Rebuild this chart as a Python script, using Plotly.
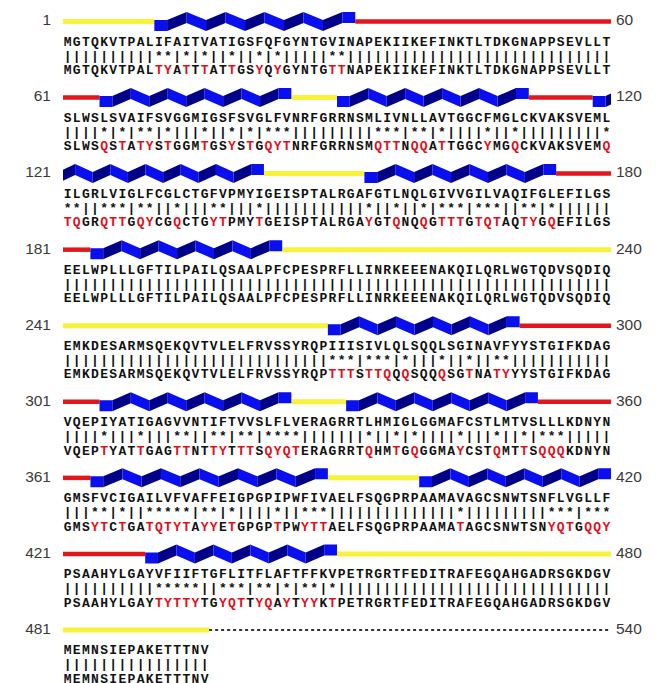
import plotly.graph_objects as go

# ---------------- data ----------------
orig_blocks = [
    "MGTQKVTPALIFAITVATIGSFQFGYNTGVINAPEKIIKEFINKTLTDKGNAPPSEVLLT",
    "SLWSLSVAIFSVGGMIGSFSVGLFVNRFGRRNSMLIVNLLAVTGGCFMGLCKVAKSVEML",
    "ILGRLVIGLFCGLCTGFVPMYIGEISPTALRGAFGTLNQLGIVVGILVAQIFGLEFILGS",
    "EELWPLLLGFTILPAILQSAALPFCPESPRFLLINRKEEENAKQILQRLWGTQDVSQDIQ",
    "EMKDESARMSQEKQVTVLELFRVSSYRQPIIISIVLQLSQQLSGINAVFYYSTGIFKDAG",
    "VQEPIYATIGAGVVNTIFTVVSLFLVERAGRRTLHMIGLGGMAFCSTLMTVSLLLKDNYN",
    "GMSFVCIGAILVFVAFFEIGPGPIPWFIVAELFSQGPRPAAMAVAGCSNWTSNFLVGLLF",
    "PSAAHYLGAYVFIIFTGFLITFLAFTFFKVPETRGRTFEDITRAFEGQAHGADRSGKDGV",
    "MEMNSIEPAKETTTNV",
]
mut_blocks = [
    "MGTQKVTPALTYATTTATTGSYQYGYNTGTTNAPEKIIKEFINKTLTDKGNAPPSEVLLT",
    "SLWSQSTATYSTGGMTGSYSTGQYTNRFGRRNSMQTTNQQATTGGCYMGQCKVAKSVEMQ",
    "TQGRQTTGQYCGQCTGYTPMYTGEISPTALRGAYGTQNQQGTTTGTQTAQTYGQEFILGS",
    "EELWPLLLGFTILPAILQSAALPFCPESPRFLLINRKEEENAKQILQRLWGTQDVSQDIQ",
    "EMKDESARMSQEKQVTVLELFRVSSYRQPTTTSTTQQQSQQQSGTNATYYYSTGIFKDAG",
    "VQEPTYATTGAGTTNTTYTTTSQYQTERAGRRTQHMTGQGGMAYCSTQMTTSQQQKDNYN",
    "GMSYTCTGATQTYTAYYETGPGPTPWYTTAELFSQGPRPAAMATAGCSNWTSNYQTGQQY",
    "PSAAHYLGAYTYTTYTGYQTTYQAYTYYKTPETRGRTFEDITRAFEGQAHGADRSGKDGV",
    "MEMNSIEPAKETTTNV",
]
left_labels = [1, 61, 121, 181, 241, 301, 361, 421, 481]
right_labels = [60, 120, 180, 240, 300, 360, 420, 480, 540]

helix_ranges = [(11, 32), (65, 85), (91, 111), (119, 142), (154, 174), (184, 204),
                (270, 290), (305, 325), (332, 352), (364, 389), (400, 420), (430, 450)]
yellow_ranges = [(1, 10), (86, 90), (143, 153), (205, 269), (326, 331), (390, 399), (451, 496)]
red_ranges = [(33, 64), (112, 118), (175, 183), (291, 304), (353, 363), (421, 429)]
dotted_range = (497, 540)

ROW = 60
for a, b in zip(orig_blocks, mut_blocks):
    assert len(a) == len(b)

# ---------------- style ----------------
YELLOW = "#F8F23A"
RED = "#E3161C"
BLUE = "#0A0FF0"
NAVY = "#000088"
TXT_RED = "#E0101A"
PAGE_OFF = 8.0          # default body margin of the html page
PX_PER_ROW = 76.06
PX_PER_COL = 9.133
X0_PX = 63.0            # page pixel of first column edge
Y0_PX = 21.5            # page pixel of first bar
OFF_TOP, OFF_MID, OFF_BOT = 21.0 / PX_PER_ROW, 35.0 / PX_PER_ROW, 49.5 / PX_PER_ROW
AMP = 4.0 / PX_PER_ROW
THICK = 11.0 / PX_PER_ROW

fig = go.Figure()


def split_rows(x0, x1):
    out = []
    r = int(x0 // ROW)
    while x0 < x1 - 1e-9:
        end = min(x1, (r + 1) * ROW)
        out.append((r, x0 - r * ROW, end - r * ROW))
        x0 = end
        r += 1
    return out


def add_bar(ranges, color, width=4.5, dash=None):
    xs, ys = [], []
    for s, e in ranges:
        for r, a, b in split_rows(s - 1, e):
            xs += [a, b, None]
            ys += [r, r, None]
    fig.add_trace(go.Scatter(x=xs, y=ys, mode="lines", hoverinfo="skip",
                             line=dict(color=color, width=width, dash=dash)))


add_bar(yellow_ranges, YELLOW, width=5)
add_bar(red_ranges, RED, width=4.5)
add_bar([dotted_range], "#333333", width=2, dash="dot")

navy_x, navy_y, blue_x, blue_y = [], [], [], []


def add_poly(xa, ya, xb, yb, color):
    ra = int(xa // ROW)
    if xb > (ra + 1) * ROW + 1e-9:
        xm = (ra + 1) * ROW
        ym = ya + (yb - ya) * (xm - xa) / (xb - xa)
        pieces = [(xa, ya, xm, ym), (xm, ym, xb, yb)]
    else:
        pieces = [(xa, ya, xb, yb)]
    for (x0, y0, x1, y1) in pieces:
        r = int((x0 + 1e-9) // ROW)
        lx0, lx1 = x0 - r * ROW, x1 - r * ROW
        px = [lx0, lx1, lx1, lx0, lx0, None]
        py = [r + y0 - THICK / 2, r + y1 - THICK / 2, r + y1 + THICK / 2,
              r + y0 + THICK / 2, r + y0 - THICK / 2, None]
        if color == "navy":
            navy_x.extend(px); navy_y.extend(py)
        else:
            blue_x.extend(px); blue_y.extend(py)


for s, e in helix_ranges:
    x0, x1 = s - 1, e
    L = x1 - x0
    box = 1.4
    inner = L - 2 * box
    nh = max(1, int(round(inner / 2.15)))
    if nh % 2 == 0:
        nh += 1
    half = inner / nh
    low, high = AMP, -AMP
    add_poly(x0, low, x0 + box, low, "blue")
    for k in range(nh):
        xa = x0 + box + k * half
        xb = xa + half
        if k % 2 == 0:
            add_poly(xa, low, xb, high, "navy")
        else:
            add_poly(xa, high, xb, low, "blue")
    add_poly(x1 - box, high, x1, high, "blue")

fig.add_trace(go.Scatter(x=navy_x, y=navy_y, mode="lines", fill="toself", fillcolor=NAVY,
                         line=dict(width=0, color=NAVY), hoverinfo="skip"))
fig.add_trace(go.Scatter(x=blue_x, y=blue_y, mode="lines", fill="toself", fillcolor=BLUE,
                         line=dict(width=0, color=BLUE), hoverinfo="skip"))

# sequence text
tx, ty, tt, tc = [], [], [], []
for r, (a, b) in enumerate(zip(orig_blocks, mut_blocks)):
    for i, (ca, cb) in enumerate(zip(a, b)):
        same = ca == cb
        x = i + 0.5
        tx += [x, x, x]
        ty += [r + OFF_TOP, r + OFF_MID, r + OFF_BOT]
        tt += [ca, "|" if same else "*", cb]
        tc += ["#111111", "#111111", "#111111" if same else TXT_RED]

fig.add_trace(go.Scatter(x=tx, y=ty, text=tt, mode="text", hoverinfo="skip",
                         textposition="middle center",
                         textfont=dict(family="Liberation Mono, Courier New, monospace",
                                       size=13, color=tc, weight="bold")))

rows = list(range(len(left_labels)))
fig.add_trace(go.Scatter(x=[(51 - X0_PX) / PX_PER_COL] * len(rows), y=rows,
                         text=[str(v) for v in left_labels],
                         mode="text", textposition="middle left", hoverinfo="skip",
                         textfont=dict(family="Liberation Sans, Arial", size=15.5, color="#3a3a3a")))
fig.add_trace(go.Scatter(x=[(616 - X0_PX) / PX_PER_COL] * len(rows), y=rows,
                         text=[str(v) for v in right_labels],
                         mode="text", textposition="middle right", hoverinfo="skip",
                         textfont=dict(family="Liberation Sans, Arial", size=15.5, color="#3a3a3a")))

W, H = 657, 683
fig.update_layout(
    width=W, height=H,
    margin=dict(l=0, r=0, t=0, b=0),
    paper_bgcolor="white", plot_bgcolor="white",
    showlegend=False,
    xaxis=dict(range=[(PAGE_OFF - X0_PX) / PX_PER_COL, (PAGE_OFF + W - X0_PX) / PX_PER_COL],
               visible=False, fixedrange=True),
    yaxis=dict(range=[(PAGE_OFF + H - Y0_PX) / PX_PER_ROW, (PAGE_OFF - Y0_PX) / PX_PER_ROW],
               visible=False, fixedrange=True),
)

fig.write_html("out.html")
